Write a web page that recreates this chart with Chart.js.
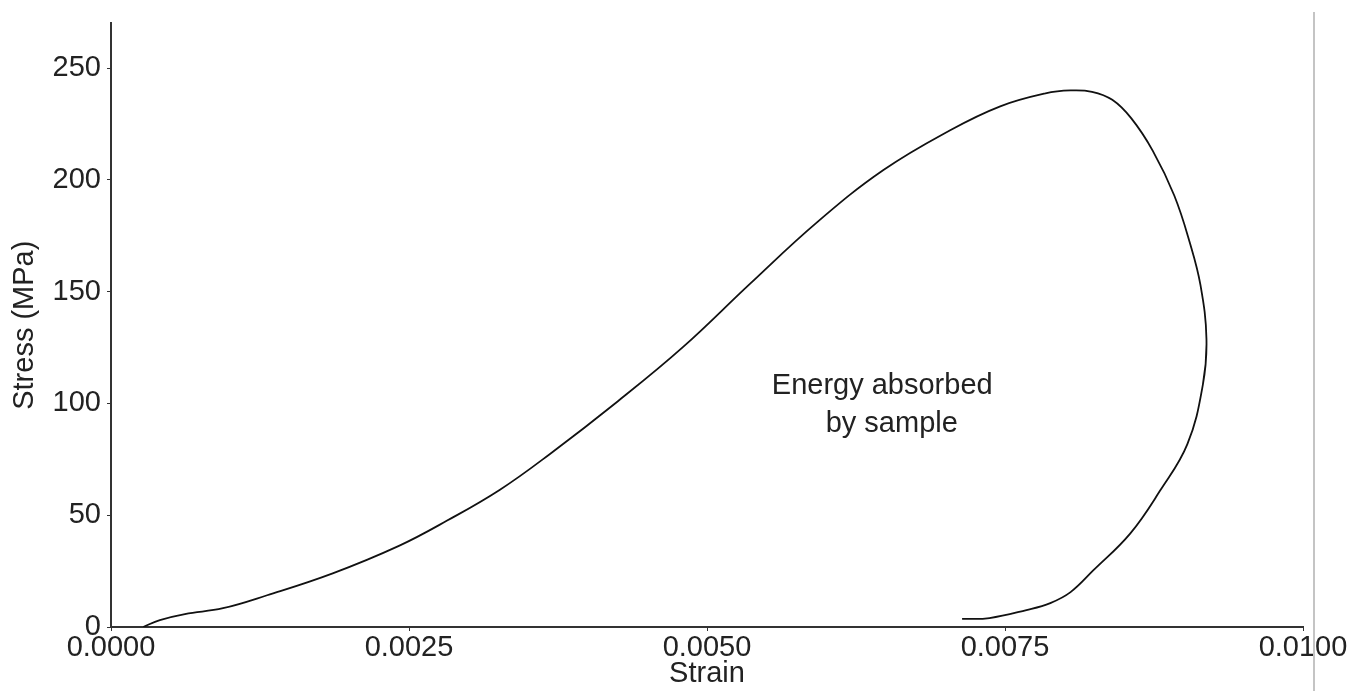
<!DOCTYPE html>
<html>
<head>
  <title>Stress-strain curve</title>
  <script src="https://cdn.jsdelivr.net/npm/chart.js"></script>
  <style>
    body { margin: 0; background: #fff; }
    #wrap { width: 1366px; height: 691px; }
  </style>
</head>
<body>
  <div id="wrap"><canvas id="curveChart"></canvas></div>

  <script>
    // values
    const strain = [0.00027, 0.00041, 0.00062, 0.00094, 0.00131, 0.00186, 0.00242, 0.00282,
      0.00326, 0.00368, 0.00425, 0.00480, 0.00536, 0.00592, 0.00648, 0.00704, 0.00746,
      0.00784, 0.00805, 0.00823, 0.00840, 0.00856, 0.00874, 0.00892, 0.00905, 0.00914, 0.00919,
      0.00916, 0.00903, 0.00880, 0.00855, 0.00824, 0.00805, 0.00788, 0.00768, 0.00737, 0.00714];
    const stress = [0, 3.1, 5.8, 8.4, 14.2, 24.0, 36.4, 47.6,
      61.3, 77.3, 100.9, 125.3, 153.5, 180.9, 204.4, 222.2, 232.9,
      238.7, 240.0, 239.4, 235.8, 227.5, 213.0, 193.0, 172.0, 152.9, 128.9,
      108.4, 81.8, 60.9, 41.8, 25.3, 15.6, 10.7, 7.6, 4.0, 3.6];

    const xTicks = [0, 0.0025, 0.005, 0.0075, 0.01];
    const yTicks = [0, 50, 100, 150, 200, 250];

    const noteLines = ['Energy absorbed', 'by sample'];
    const noteX = [0.00647, 0.00655];
    const noteY = [108, 91];

    const points = strain.map((s, i) => ({ x: s, y: stress[i] }));

    const font = { family: 'Liberation Sans, Arial, sans-serif', size: 29 };

    const notePlugin = {
      id: 'note',
      afterDatasetsDraw(chart) {
        const ctx = chart.ctx;
        const xs = chart.scales.x, ys = chart.scales.y;
        ctx.save();
        ctx.font = '29px Liberation Sans, Arial, sans-serif';
        ctx.fillStyle = '#222';
        ctx.textAlign = 'center';
        ctx.textBaseline = 'middle';
        noteLines.forEach((t, i) => {
          ctx.fillText(t, xs.getPixelForValue(noteX[i]), ys.getPixelForValue(noteY[i]));
        });
        ctx.restore();
      }
    };

    // the thin grey frame line on the right of the picture
    const frameLine = {
      id: 'frameLine',
      afterDraw(chart) {
        const ctx = chart.ctx;
        const x = chart.chartArea.right + 11;
        ctx.save();
        ctx.strokeStyle = '#c4c4c4';
        ctx.lineWidth = 2;
        ctx.beginPath();
        ctx.moveTo(x, 12);
        ctx.lineTo(x, chart.height);
        ctx.stroke();
        ctx.restore();
      }
    };

    new Chart(document.getElementById('curveChart'), {
      type: 'scatter',
      data: {
        datasets: [{
          data: points,
          showLine: true,
          borderColor: '#111',
          borderWidth: 1.8,
          pointRadius: 0,
          tension: 0.4,
          fill: false
        }]
      },
      options: {
        responsive: true,
        maintainAspectRatio: false,
        animation: false,
        layout: { padding: { top: 20, right: 63, bottom: 0, left: 0 } },
        plugins: {
          legend: { display: false },
          tooltip: { enabled: false }
        },
        scales: {
          x: {
            type: 'linear',
            min: 0,
            max: 0.01,
            afterBuildTicks: s => { s.ticks = xTicks.map(v => ({ value: v })); },
            afterFit: s => { s.height = 64; },
            ticks: {
              color: '#222',
              font: font,
              padding: 0,
              maxRotation: 0,
              callback: v => Number(v).toFixed(4)
            },
            grid: { drawOnChartArea: false, drawTicks: true, tickLength: 4, color: '#333' },
            border: { display: true, color: '#333', width: 2 },
            title: { display: true, text: 'Strain', color: '#222', font: font, padding: { top: 0, bottom: 0 } }
          },
          y: {
            min: 0,
            max: 270,
            afterBuildTicks: s => { s.ticks = yTicks.map(v => ({ value: v })); },
            afterFit: s => { s.width = 111; },
            ticks: { color: '#222', font: font, padding: 6 },
            grid: { drawOnChartArea: false, drawTicks: true, tickLength: 4, color: '#333' },
            border: { display: true, color: '#333', width: 2 },
            title: { display: true, text: 'Stress (MPa)', color: '#222', font: font, padding: { top: 8, bottom: 0 } }
          }
        }
      },
      plugins: [notePlugin, frameLine]
    });
  </script>
</body>
</html>
